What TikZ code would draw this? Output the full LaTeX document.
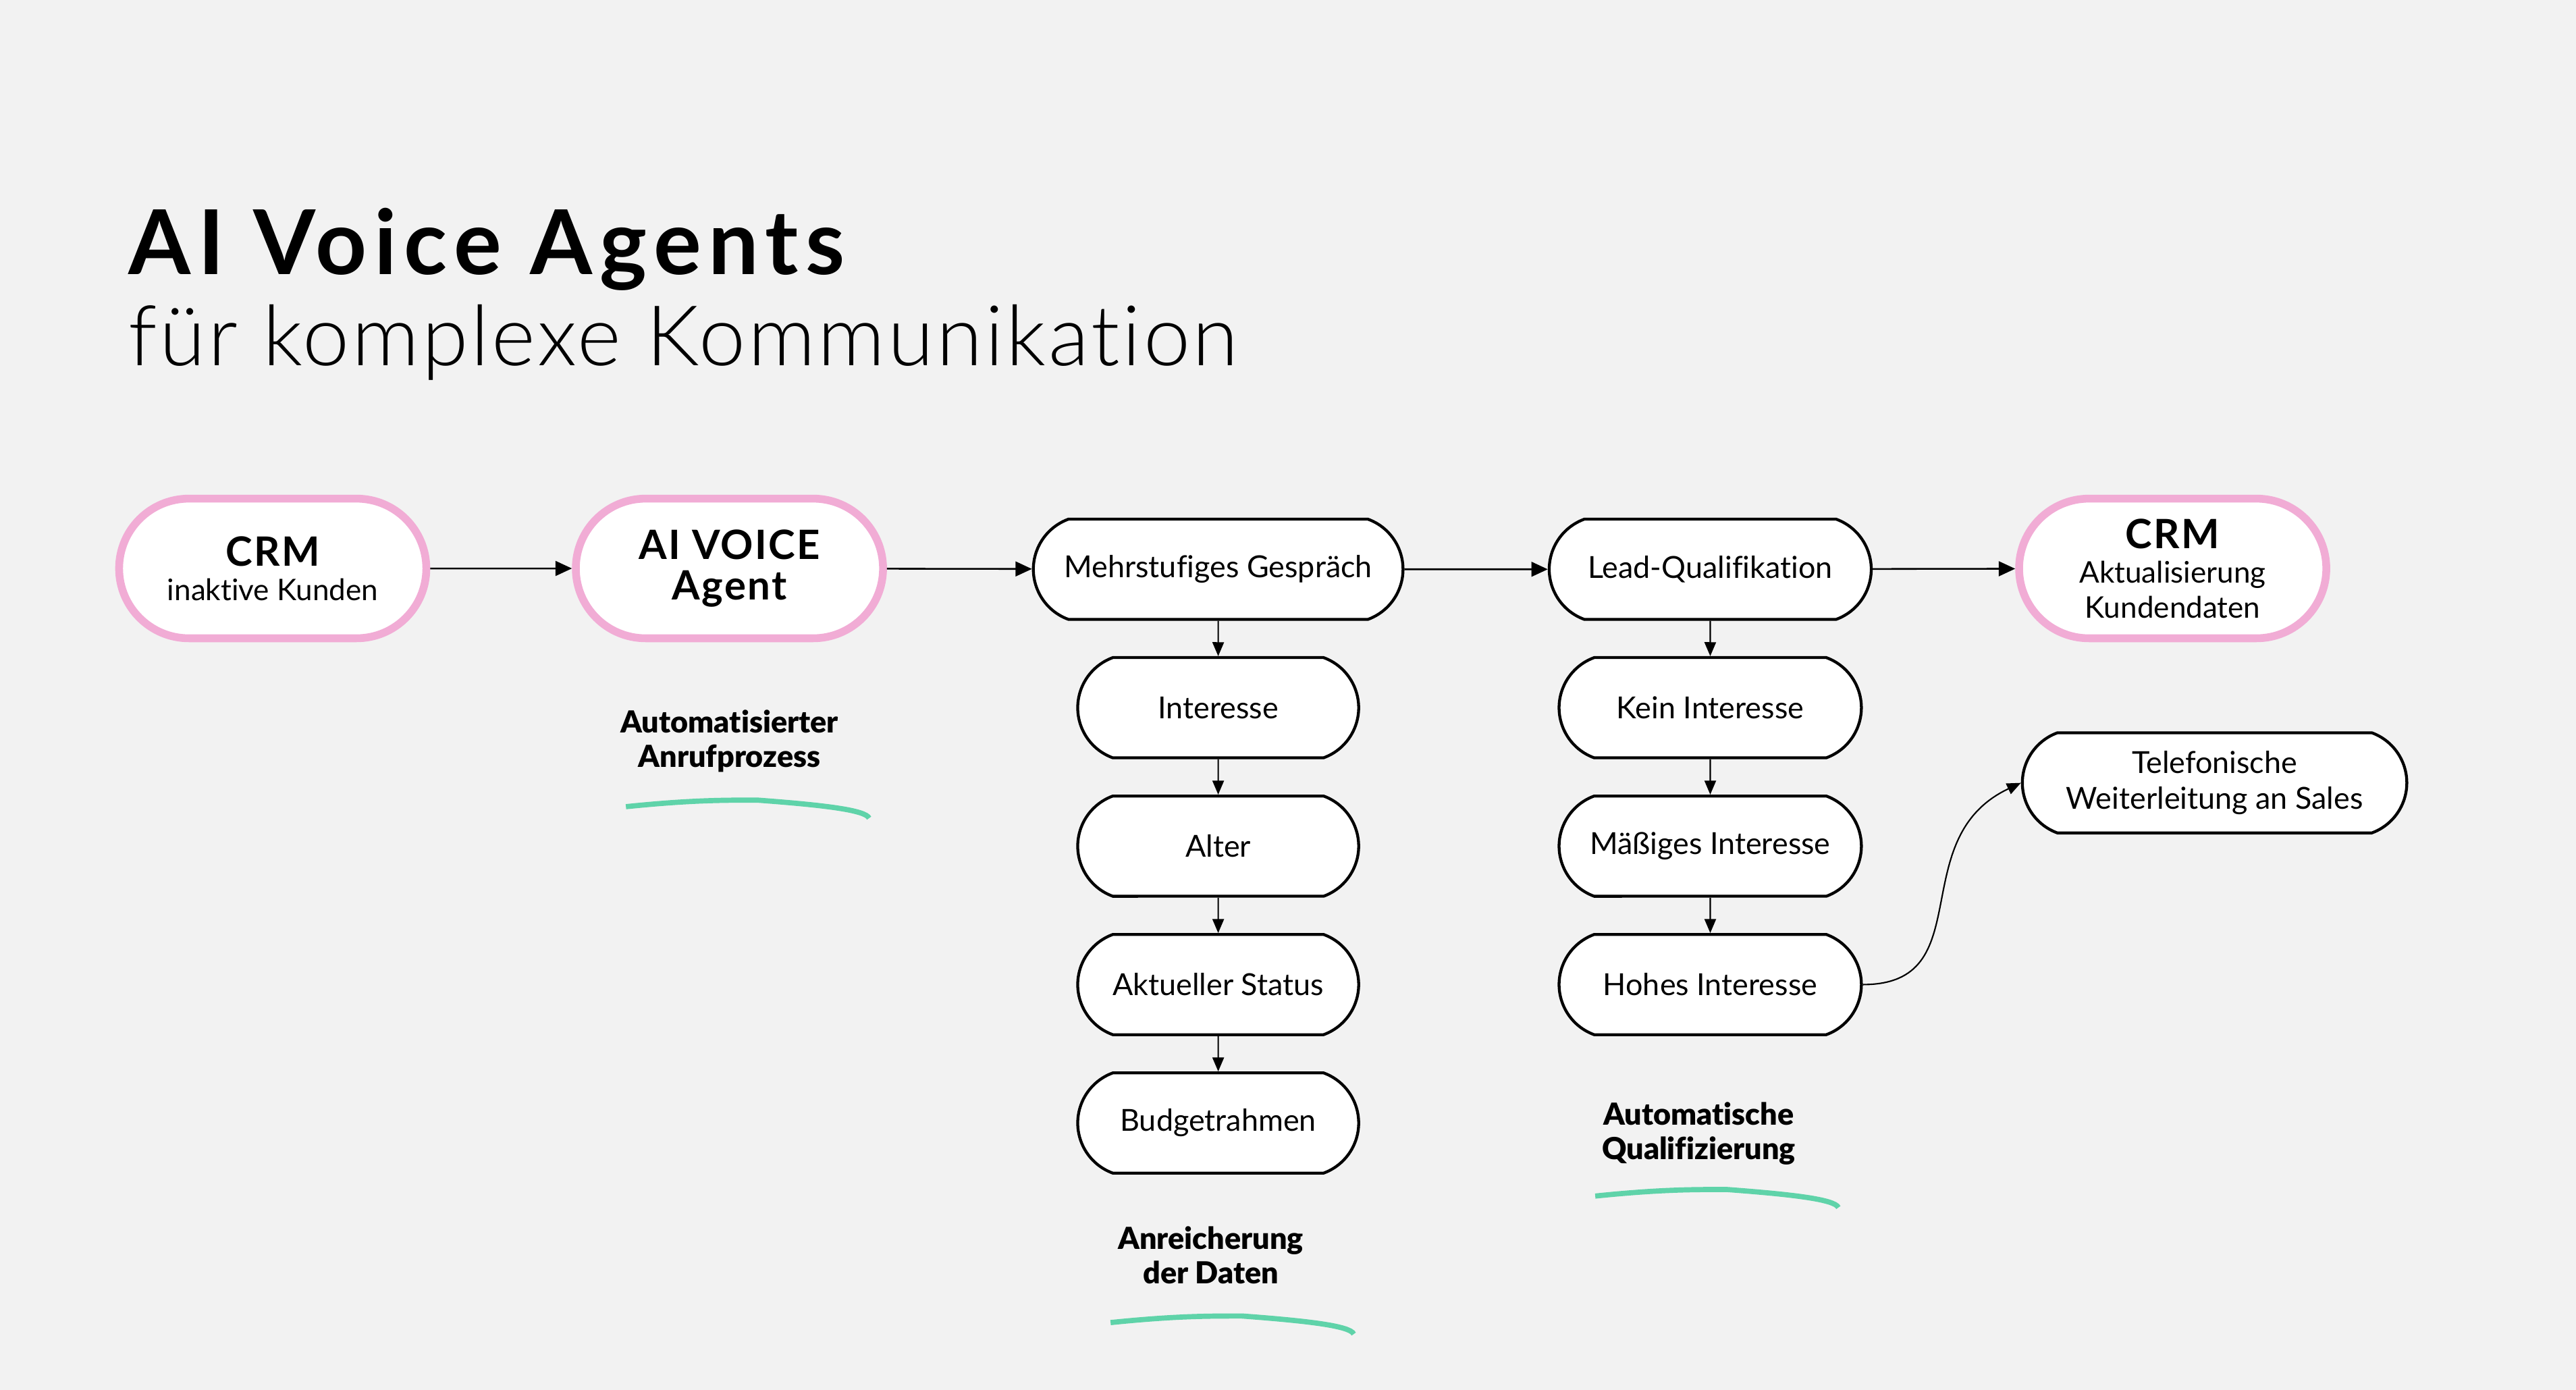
\documentclass[tikz,border=0pt]{standalone}
\usepackage{fontspec}
\setmainfont{Lato}[Ligatures=NoCommon]
\newfontfamily\lightfont{Lato Light}[Ligatures=NoCommon,LetterSpace=3]
\newfontfamily\heavyfont{Lato Black}[Ligatures=NoCommon]
\newfontfamily\titlefont{Lato Bold}[Ligatures=NoCommon,LetterSpace=8]
\newfontfamily\crmfont{Lato Bold}[Ligatures=NoCommon,LetterSpace=4]
\usetikzlibrary{positioning,shapes.misc,arrows.meta}

\definecolor{bg}{HTML}{F2F2F2}
\definecolor{pinkline}{HTML}{F1ACD5}
\definecolor{mint}{HTML}{5FD3A9}

\tikzset{
  pinknode/.style={rounded rectangle, draw=pinkline, line width=2.7pt, fill=white,
    minimum width=37.4mm, minimum height=17mm, align=center, inner sep=0pt,
    font=\fontsize{10.3}{12}\selectfont},
  stepnode/.style={rounded rectangle, rounded rectangle arc length=140, draw, line width=1pt,
    fill=white, minimum height=12.2mm, align=center, inner sep=0pt,
    font=\fontsize{10.5}{12.5}\selectfont},
  flow/.style={-{Triangle[length=2mm,width=1.8mm]}, line width=0.6pt},
  down/.style={-{Triangle[length=1.7mm,width=1.4mm]}, line width=0.5pt},
  note/.style={font=\fontsize{10.5}{12}\selectfont\heavyfont, align=center},
  swoosh/.pic={
    \draw[mint, line width=1.8pt] (0,0) .. controls (39,-4) and (59,-4) .. (80,-4)
      .. controls (120,-1) and (146,2) .. (148,7);
  }
}

\begin{document}
\begin{tikzpicture}[x=0.2mm, y=-0.2mm]
    % Background
    \fill[bg] (0,0) rectangle (1568,846);

    % Heading
    \node[anchor=base west, inner sep=0pt, font=\fontsize{31}{36}\selectfont\titlefont] (titel) at (78,167) {AI Voice Agents};
    \node[anchor=base west, inner sep=0pt, font=\fontsize{29}{34}\selectfont\lightfont] (untertitel) at (78,222.5) {für komplexe Kommunikation};

    % Main row
    \node[pinknode] (crm) at (166,346) {{\fontsize{14}{14}\selectfont\crmfont CRM}\\inaktive Kunden};
    \node[pinknode, font=\fontsize{14}{14}\selectfont\crmfont] (agent) at (444,346) {AI VOICE\\Agent};
    \node[stepnode, minimum width=45mm] (gespraech) at (741.5,346.5) {Mehrstufiges Gespräch};
    \node[stepnode, minimum width=39.2mm] (lead) at (1041,346.5) {Lead-Qualifikation};
    \node[pinknode] (crmneu) at (1322.5,346) {{\fontsize{14}{14}\selectfont\crmfont CRM}\\Aktualisierung\\Kundendaten};

    % Data column
    \node[stepnode, minimum width=34.2mm, below=4.3mm of gespraech] (interesse) {Interesse};
    \node[stepnode, minimum width=34.2mm, below=4.3mm of interesse] (alter) {Alter};
    \node[stepnode, minimum width=34.2mm, below=4.3mm of alter] (status) {Aktueller Status};
    \node[stepnode, minimum width=34.2mm, below=4.3mm of status] (budget) {Budgetrahmen};

    % Qualification column
    \node[stepnode, minimum width=36.8mm, below=4.3mm of lead] (kein) {Kein Interesse};
    \node[stepnode, minimum width=36.8mm, below=4.3mm of kein] (maessig) {Mäßiges Interesse};
    \node[stepnode, minimum width=36.8mm, below=4.3mm of maessig] (hoch) {Hohes Interesse};
    \node[stepnode, minimum width=46.8mm] (telefon) at (1348,476.5) {Telefonische\\Weiterleitung an Sales};

    % Arrows
    \draw[flow] (crm) -- (agent);
    \draw[flow] (agent) -- (gespraech);
    \draw[flow] (gespraech) -- (lead);
    \draw[flow] (lead) -- (crmneu);
    \draw[down] (gespraech) -- (interesse);
    \draw[down] (interesse) -- (alter);
    \draw[down] (alter) -- (status);
    \draw[down] (status) -- (budget);
    \draw[down] (lead) -- (kein);
    \draw[down] (kein) -- (maessig);
    \draw[down] (maessig) -- (hoch);
    \draw[down] (hoch.east) .. controls +(72,0) and +(-72,34) .. (telefon.west);

    % Captions with underlines
    \node[note] (anruf) at (444,451) {Automatisierter\\Anrufprozess};
    \node[note] (anreicherung) at (737,764) {Anreicherung\\der Daten};
    \node[note] (qualifizierung) at (1034,690) {Automatische\\Qualifizierung};
    \pic at (381,491) {swoosh};
    \pic at (676,805) {swoosh};
    \pic at (971,728) {swoosh};
\end{tikzpicture}
\end{document}
